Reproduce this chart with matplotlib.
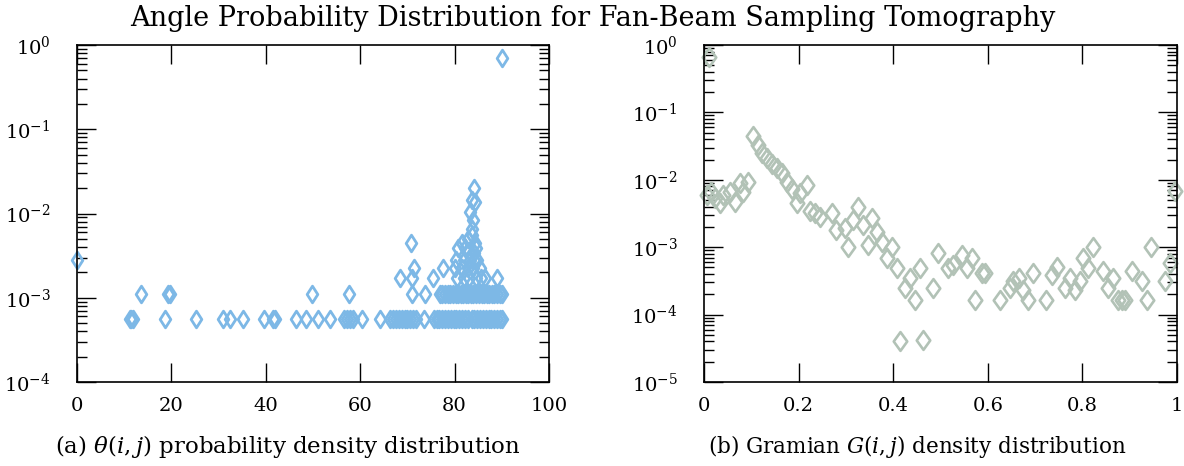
import numpy as np
import matplotlib
matplotlib.use("Agg")
import matplotlib.pyplot as plt
from matplotlib.path import Path

plt.rcParams['font.family'] = ['DejaVu Serif']
plt.rcParams['mathtext.fontset'] = 'dejavuserif'

# ---------------- data: left panel (theta vs probability density) ----------------
theta_lvl1 = [11.2, 11.5, 11.8, 18.6, 25.2, 30.9, 32.4, 35.2, 39.7, 41.5, 41.9, 46.3,
              48.6, 51.1, 53.6, 56.6, 57.3, 57.9, 58.4, 60.3, 64.2, 66.3, 67.0, 67.6,
              68.2, 68.8, 69.4, 70.0, 70.6, 71.2, 71.8, 73.5, 75.6, 76.2, 76.8, 77.4,
              78.0, 78.6, 79.2, 79.8, 80.4, 81.0, 81.6, 82.2, 82.8, 83.6, 84.2, 84.8,
              85.4, 86.0, 86.6, 87.2, 87.8, 88.4, 89.0, 89.6, 90.0]
dens_lvl1 = 5.6e-4
theta_lvl2 = [13.6, 19.3, 19.6, 49.7, 57.6, 70.9, 73.7, 76.9, 77.4, 78.0, 78.5, 79.1,
              79.6, 80.2, 80.7, 81.3, 81.8, 82.4, 82.9, 83.5, 84.0, 84.6, 85.1, 85.7,
              86.2, 86.8, 87.3, 87.9, 88.4, 89.0, 89.6, 90.0]
dens_lvl2 = 1.12e-3
theta_other = [68.4, 70.9, 75.5, 80.5, 82.0, 83.0, 84.5, 85.5, 86.4, 88.9,
               71.3, 77.6, 80.1, 81.5, 82.9, 84.0, 85.4,
               0.0, 80.4, 82.0, 83.2, 84.1, 84.8,
               80.8, 82.2, 83.0, 84.2, 84.6,
               70.8, 81.5, 82.9, 83.6, 84.3,
               83.6, 84.0, 83.3, 84.3, 83.6, 84.2, 90.0]
dens_other = [1.7e-3, 1.7e-3, 1.7e-3, 1.7e-3, 1.7e-3, 1.7e-3, 1.7e-3, 1.7e-3, 1.7e-3, 1.7e-3,
              2.25e-3, 2.25e-3, 2.25e-3, 2.25e-3, 2.25e-3, 2.25e-3, 2.25e-3,
              2.8e-3, 2.8e-3, 2.8e-3, 2.8e-3, 2.8e-3, 2.8e-3,
              3.9e-3, 3.9e-3, 3.6e-3, 3.4e-3, 3.9e-3,
              4.5e-3, 4.5e-3, 5.0e-3, 5.5e-3, 4.5e-3,
              6.6e-3, 8.3e-3, 1.05e-2, 1.38e-2, 1.44e-2, 2.0e-2, 0.70]

# ---------------- data: right panel (Gramian vs density) ----------------
gram_x = [0.010, 0.007, 0.014, 0.023, 0.034, 0.041, 0.055, 0.066, 0.076, 0.083, 0.094,
          0.104, 0.115, 0.122, 0.133, 0.143, 0.154, 0.164, 0.175, 0.185, 0.196, 0.203,
          0.217, 0.224, 0.235, 0.245, 0.270, 0.280, 0.298, 0.305, 0.316, 0.326, 0.337,
          0.347, 0.355, 0.365, 0.376, 0.386, 0.397, 0.407, 0.414, 0.425, 0.435, 0.446,
          0.457, 0.464, 0.485, 0.495, 0.516, 0.527, 0.545, 0.555, 0.566, 0.573, 0.587,
          0.594, 0.626, 0.647, 0.654, 0.665, 0.675, 0.686, 0.696, 0.724, 0.735, 0.746,
          0.763, 0.774, 0.784, 0.795, 0.802, 0.812, 0.823, 0.844, 0.855, 0.865, 0.876,
          0.883, 0.890, 0.904, 0.925, 0.936, 0.946, 0.975, 0.985, 0.995]
gram_y = [0.66, 5.9e-3, 6.7e-3, 5.3e-3, 4.5e-3, 5.9e-3, 6.7e-3, 4.7e-3, 8.9e-3, 6.7e-3, 9.3e-3,
          4.4e-2, 3.3e-2, 2.5e-2, 2.1e-2, 1.7e-2, 1.5e-2, 1.26e-2, 9.3e-3, 7.4e-3, 4.5e-3, 6.3e-3,
          8.3e-3, 3.4e-3, 3.2e-3, 2.8e-3, 3.2e-3, 1.8e-3, 1.9e-3, 1.0e-3, 2.5e-3, 4.0e-3, 2.1e-3,
          1.07e-3, 2.7e-3, 1.7e-3, 1.2e-3, 6.8e-4, 1.0e-3, 4.9e-4, 4.0e-5, 2.5e-4, 3.5e-4, 1.66e-4,
          4.9e-4, 4.2e-5, 2.5e-4, 8.1e-4, 4.9e-4, 5.5e-4, 7.6e-4, 4.9e-4, 6.8e-4, 1.66e-4, 4.1e-4,
          4.1e-4, 1.66e-4, 2.5e-4, 3.2e-4, 3.5e-4, 2.3e-4, 1.66e-4, 4.1e-4, 1.66e-4, 3.9e-4, 5.1e-4,
          2.5e-4, 3.5e-4, 2.3e-4, 3.2e-4, 6.8e-4, 4.9e-4, 1.0e-3, 4.4e-4, 2.5e-4, 3.5e-4, 1.66e-4,
          1.66e-4, 1.66e-4, 4.4e-4, 3.2e-4, 1.66e-4, 1.0e-3, 3.2e-4, 5.8e-4, 6.8e-3]

left_xticks = [0, 20, 40, 60, 80, 100]
left_xticklabels = ["0", "20", "40", "60", "80", "100"]
right_xticks = [0, 0.2, 0.4, 0.6, 0.8, 1.0]
right_xticklabels = ["0", "0.2", "0.4", "0.6", "0.8", "1"]

title = "Angle Probability Distribution for Fan-Beam Sampling Tomography"
caption_a = r"(a) $\theta(i,j)$ probability density distribution"
caption_b = r"(b) Gramian $G(i,j)$ density distribution"

blue = "#7db8e6"
sage = "#b2c2b6"


def diamond(ratio):
    return Path([(0, 1), (ratio, 0), (0, -1), (-ratio, 0), (0, 1)],
                [Path.MOVETO, Path.LINETO, Path.LINETO, Path.LINETO, Path.CLOSEPOLY])


fig = plt.figure(figsize=(11.84, 4.66), dpi=100)
axL = fig.add_axes([77/1184, 1-382/466, 472/1184, 337/466])
axR = fig.add_axes([704/1184, 1-382/466, 473/1184, 337/466])

mkL = dict(linestyle='none', marker=diamond(0.64), markerfacecolor='none', markersize=12,
           markeredgewidth=2.0, clip_on=False)
mkR = dict(linestyle='none', marker=diamond(0.72), markerfacecolor='none', markersize=13.5,
           markeredgewidth=1.9, clip_on=False)

tl = np.array(theta_lvl1)
axL.plot(tl, np.full(len(tl), dens_lvl1), color=blue, **mkL)
t2 = np.array(theta_lvl2)
axL.plot(t2, np.full(len(t2), dens_lvl2), color=blue, **mkL)
axL.plot(theta_other, dens_other, color=blue, **mkL)

axR.plot(gram_x, gram_y, color=sage, **mkR)

for ax in (axL, axR):
    ax.set_yscale('log')
    ax.tick_params(which='both', direction='in', top=True, right=True, labelsize=14,
                   color='black')
    ax.tick_params(which='major', length=13.5, width=1.0)
    ax.tick_params(which='minor', length=7, width=1.0)
    ax.tick_params(axis='y', which='major', pad=19)
    ax.tick_params(axis='x', which='major', pad=11)
    for s in ax.spines.values():
        s.set_linewidth(1.2)

axL.set_xlim(0, 100)
axL.set_ylim(1e-4, 1)
axL.set_xticks(left_xticks)
axL.set_xticklabels(left_xticklabels)
axL.set_yticks([1e-4, 1e-3, 1e-2, 1e-1, 1])

axR.set_xlim(0, 1)
axR.set_ylim(1e-5, 1)
axR.set_xticks(right_xticks)
axR.set_xticklabels(right_xticklabels)
axR.set_yticks([1e-5, 1e-4, 1e-3, 1e-2, 1e-1, 1])

fig.text(593/1184, 1-18/466, title, ha='center', va='center', fontsize=19.5)
fig.text(288/1184, 1-447/466, caption_a, ha='center', va='center', fontsize=16.5)
fig.text(917/1184, 1-447/466, caption_b, ha='center', va='center', fontsize=15.5)

fig.savefig("out.png", dpi=100)
